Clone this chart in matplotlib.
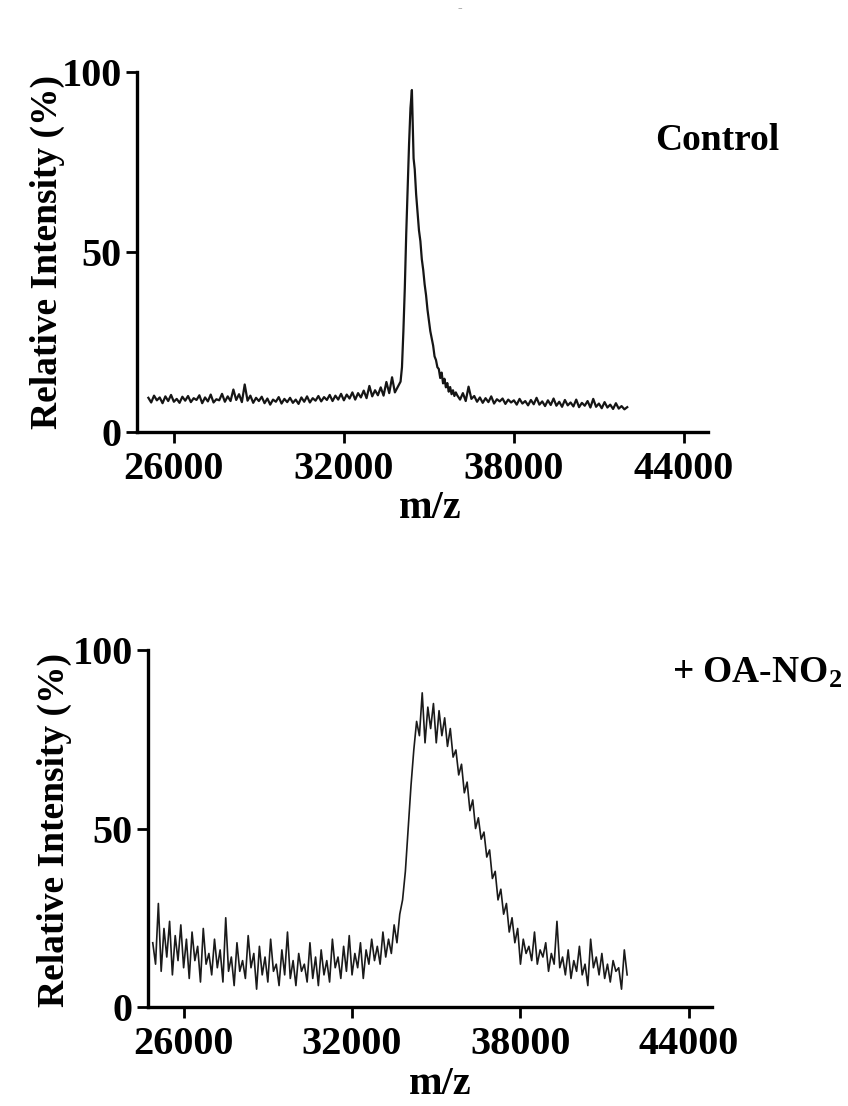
"""
Mass spectra: Control vs + OA-NO2
"""

import numpy as np
import matplotlib
matplotlib.use("Agg")
import matplotlib.pyplot as plt

plt.rcParams['font.family'] = ['Liberation Serif', 'DejaVu Serif']
plt.rcParams['font.weight'] = 'bold'
plt.rcParams['mathtext.fontset'] = 'custom'
plt.rcParams['mathtext.rm'] = 'Liberation Serif'
plt.rcParams['mathtext.bf'] = 'Liberation Serif:bold'
plt.rcParams['mathtext.default'] = 'bf'

# ---- Control spectrum ----
# baseline 25100..33900, step 100
ctrl_left = [9.5, 8.2, 10.1, 8.8, 9.6, 8.0, 9.9, 8.6, 10.3, 8.4,
             9.2, 8.1, 9.8, 8.7, 10.0, 8.3, 9.4, 8.9, 10.2, 8.0,
             9.6, 8.5, 10.4, 8.2, 9.1, 8.8, 10.6, 8.4, 9.9, 8.6,
             11.8, 8.9, 10.5, 8.3, 13.2, 8.7, 10.1, 8.1, 9.5, 8.6,
             9.8, 8.0, 9.3, 7.6, 9.0, 8.4, 9.7, 7.9, 9.2, 8.3,
             9.5, 8.1, 9.0, 7.8, 9.6, 8.4, 9.9, 8.2, 9.4, 8.7,
             10.0, 8.5, 9.7, 8.9, 10.3, 8.6, 10.1, 9.0, 10.6, 8.8,
             10.4, 9.3, 11.0, 9.0, 10.8, 9.6, 11.5, 9.4, 12.8, 9.9,
             11.6, 10.2, 12.4, 10.1, 13.9, 10.8, 15.2, 11.0, 12.5]
# main peak, explicit m/z
ctrl_peak_mz = [34000, 34050, 34100, 34150, 34200, 34250, 34300, 34350, 34400, 34430,
                34460, 34500, 34550, 34600, 34650, 34700, 34750, 34800, 34850, 34900,
                34950, 35000, 35050, 35100, 35150, 35200, 35250, 35300, 35350, 35400,
                35450, 35500, 35550, 35600, 35650, 35700, 35750, 35800, 35850, 35900,
                35950]
ctrl_peak = [14, 18, 28, 40, 55, 68, 80, 90, 95, 85,
             76, 73, 66, 61, 56, 53, 48, 45, 41, 38,
             34, 31, 28, 26, 24, 21, 20, 18, 17.5, 15,
             16.5, 13.5, 14.8, 12.4, 13.6, 11.2, 12.5, 10.5, 11.6, 10.0,
             11.0]
# tail 36000..42000, step 100
ctrl_right = [10.2, 9.0, 10.8, 8.6, 12.6, 9.2, 10.0, 8.4, 9.6, 8.1,
              9.4, 8.3, 9.9, 7.9, 9.1, 8.5, 9.3, 7.8, 9.0, 8.2,
              8.8, 7.6, 9.2, 7.9, 8.6, 7.4, 8.9, 7.7, 9.5, 7.6,
              8.5, 7.2, 8.8, 7.5, 9.3, 7.3, 8.4, 7.0, 8.9, 7.4,
              8.2, 7.1, 9.0, 6.9, 8.1, 7.3, 8.6, 6.8, 9.2, 7.0,
              7.9, 6.6, 8.3, 6.8, 7.6, 6.4, 8.0, 6.5, 7.2, 6.3,
              6.9]

# ---- + OA-NO2 spectrum, 24900..41800 step 100 ----
oa_vals = [18, 12, 29, 10, 22, 14, 24, 9, 20, 13,
           23, 11, 19, 8, 21, 13, 17, 7, 22, 12,
           15, 9, 19, 11, 16, 7, 25, 10, 14, 6,
           18, 10, 13, 8, 20, 11, 15, 5, 17, 9,
           14, 7, 19, 10, 12, 6, 16, 9, 21, 8,
           13, 6, 15, 10, 12, 7, 18, 8, 14, 6,
           16, 9, 13, 7, 19, 11, 14, 8, 17, 10,
           20, 9, 15, 11, 18, 8, 16, 12, 19, 13,
           17, 12, 21, 14, 19, 15, 23, 18, 26, 30,
           38, 50, 62, 72, 80, 76, 88, 74, 84, 78,
           85, 74, 83, 76, 81, 73, 78, 70, 72, 65,
           68, 60, 63, 55, 58, 50, 53, 47, 49, 42,
           44, 36, 38, 30, 33, 26, 29, 21, 25, 18,
           22, 12, 19, 15, 17, 13, 21, 12, 16, 14,
           18, 10, 15, 12, 24, 11, 14, 9, 16, 8,
           13, 10, 17, 9, 12, 6, 19, 11, 14, 9,
           15, 8, 12, 7, 13, 10, 11, 5, 16, 9]

x_ticks = [26000, 32000, 38000, 44000]
y_ticks = [0, 50, 100]


def style_axes(ax, xlim):
    ax.set_xlim(*xlim)
    ax.set_ylim(0, 100)
    for s in ['top', 'right']:
        ax.spines[s].set_visible(False)
    for s in ['left', 'bottom']:
        ax.spines[s].set_linewidth(2.4)
    ax.set_xticks(x_ticks)
    ax.set_yticks(y_ticks)
    ax.tick_params(axis='both', length=8, width=2, labelsize=29, pad=3)
    ax.tick_params(axis='x', pad=6)
    for lab in ax.get_xticklabels() + ax.get_yticklabels():
        lab.set_fontweight('bold')


def main():
    mz_ctrl = np.concatenate([np.linspace(25100, 33900, len(ctrl_left)),
                              ctrl_peak_mz,
                              np.linspace(36000, 42000, len(ctrl_right))])
    y_ctrl = np.concatenate([ctrl_left, ctrl_peak, ctrl_right])
    mz_oa = np.linspace(24900, 41800, len(oa_vals))

    fig = plt.figure(figsize=(8.48, 11.06), dpi=100)

    ax1 = fig.add_axes([0.1616, 0.6094, 0.6733, 0.3255])
    ax1.plot(mz_ctrl, y_ctrl, color='#151515', lw=1.6)
    style_axes(ax1, (24700, 44850))
    ax1.text(717 / 848, 1 - 140 / 1106, 'Control', transform=fig.transFigure,
             ha='center', va='center', fontsize=27, fontweight='bold')

    ax2 = fig.add_axes([0.1745, 0.0895, 0.6650, 0.3228])
    ax2.plot(mz_oa, oa_vals, color='#1a1a1a', lw=1.2)
    style_axes(ax2, (24730, 44820))
    ax2.text(757 / 848, 1 - 673 / 1106, '+ OA-NO$_2$', transform=fig.transFigure,
             ha='center', va='center', fontsize=27, fontweight='bold')

    # axis titles
    fig.text(47 / 848, 1 - 252 / 1106, 'Relative Intensity (%)', rotation=90,
             ha='center', va='center', fontsize=27, fontweight='bold')
    fig.text(54 / 848, 1 - 830 / 1106, 'Relative Intensity (%)', rotation=90,
             ha='center', va='center', fontsize=27, fontweight='bold')
    fig.text(430 / 848, 1 - 508 / 1106, 'm/z', ha='center', va='center',
             fontsize=29, fontweight='bold')
    fig.text(440 / 848, 1 - 1084 / 1106, 'm/z', ha='center', va='center',
             fontsize=29, fontweight='bold')

    # small dash left over at the top edge
    fig.text(460 / 848, 1 - 9 / 1106, '-', ha='center', va='center',
             fontsize=10, color='#999999')

    fig.savefig("out.png", dpi=100)


if __name__ == "__main__":
    main()
